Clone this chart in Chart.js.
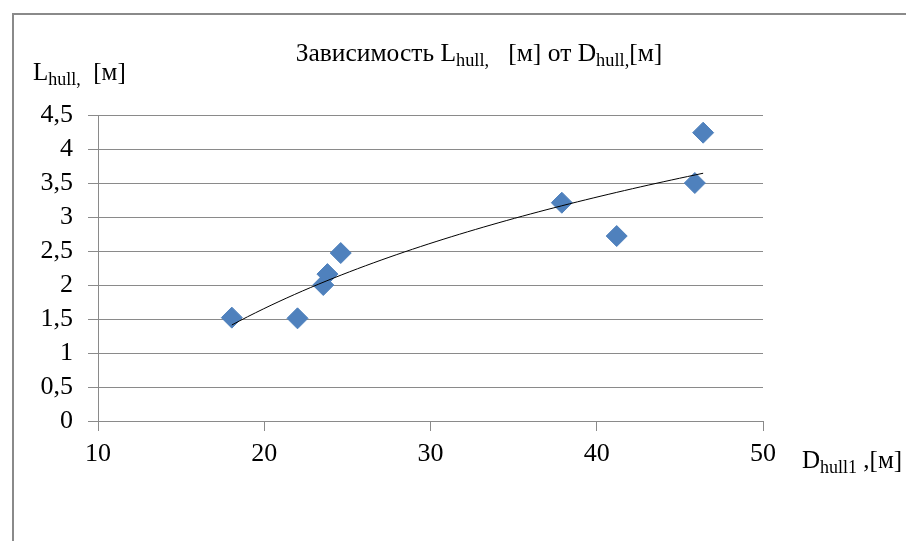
<!DOCTYPE html>
<html>
<head>
<meta charset="utf-8">
<script src="https://cdn.jsdelivr.net/npm/chart.js@4"></script>
<style>
  html, body { margin: 0; padding: 0; background: #fff; }
  #wrap { width: 906px; height: 541px; position: relative; }
</style>
</head>
<body>
<div id="wrap"><canvas id="chart" width="906" height="541"></canvas></div>
<script>
// points
const dHull = [18.05, 22.0, 23.55, 23.8, 24.6, 37.9, 41.2, 45.9, 46.4];
const lHull = [1.52, 1.51, 2.0, 2.16, 2.47, 3.21, 2.72, 3.5, 4.24];

const xTicks = [10, 20, 30, 40, 50];
const yTicks = [0, 0.5, 1, 1.5, 2, 2.5, 3, 3.5, 4, 4.5];

// logarithmic trend line like excel: y = a + b*ln(x)
function logFit(xs, ys) {
    let n = xs.length, mx = 0, my = 0;
    xs.forEach((x, i) => { mx += Math.log(x); my += ys[i]; });
    mx /= n; my /= n;
    let sxy = 0, sxx = 0;
    xs.forEach((x, i) => {
        let dx = Math.log(x) - mx;
        sxy += dx * (ys[i] - my);
        sxx += dx * dx;
    });
    let b = sxy / sxx;
    return { a: my - b * mx, b: b };
}
const fit = logFit(dHull, lHull);
const xMin = Math.min(...dHull), xMax = Math.max(...dHull);
let trend = [];
for (let i = 0; i <= 60; i++) {
    let x = xMin + (xMax - xMin) * i / 60;
    trend.push({ x: x, y: fit.a + fit.b * Math.log(x) });
}

const serif = '"Liberation Serif", "Times New Roman", serif';

// draws text with subscript parts: [[text, isSub], ...]
function drawRich(ctx, parts, x, y, size, align, subScale) {
    let w = 0;
    const fontOf = p => (p[1] ? size * subScale : size) + 'px ' + serif;
    parts.forEach(p => {
        ctx.font = fontOf(p);
        w += ctx.measureText(p[0]).width;
    });
    let cx = align === 'center' ? x - w / 2 : x;
    parts.forEach(p => {
        ctx.font = fontOf(p);
        ctx.fillText(p[0], cx, p[1] ? y + size * 0.18 : y);
        cx += ctx.measureText(p[0]).width;
    });
}

const decor = {
    id: 'decor',
    beforeDraw(chart) {
        const ctx = chart.ctx;
        ctx.save();
        ctx.fillStyle = '#fff';
        ctx.fillRect(0, 0, chart.width, chart.height);
        ctx.strokeStyle = '#8a8a8a';
        ctx.lineWidth = 2;
        ctx.beginPath();
        ctx.moveTo(13, chart.height);
        ctx.lineTo(13, 14);
        ctx.lineTo(chart.width, 14);
        ctx.stroke();
        ctx.restore();
    },
    afterDraw(chart) {
        const ctx = chart.ctx;
        ctx.save();
        ctx.fillStyle = '#000';
        ctx.textBaseline = 'alphabetic';
        ctx.textAlign = 'left';
        drawRich(ctx, [['Зависимость L', false], ['hull,', true], ['   [м] от D', false], ['hull,', true], ['[м]', false]], 479, 61, 25.5, 'center', 0.72);
        drawRich(ctx, [['L', false], ['hull,', true], ['  [м]', false]], 33, 80, 25, 'left', 0.72);
        drawRich(ctx, [['D', false], ['hull1', true], [' ,[м]', false]], 802, 468, 25, 'left', 0.72);
        ctx.restore();
    }
};

new Chart(document.getElementById('chart'), {
    type: 'scatter',
    data: {
        datasets: [
            {
                data: dHull.map((x, i) => ({ x: x, y: lHull[i] })),
                backgroundColor: '#4F81BD',
                borderColor: '#4F81BD',
                pointStyle: 'rectRot',
                pointRadius: 10.5,
                pointHoverRadius: 10.5,
                order: 2
            },
            {
                data: trend,
                showLine: true,
                borderColor: '#000',
                borderWidth: 1,
                pointRadius: 0,
                tension: 0,
                order: 1
            }
        ]
    },
    plugins: [decor],
    options: {
        responsive: false,
        animation: false,
        layout: { padding: { left: 0, right: 143, top: 115, bottom: 60 } },
        plugins: { legend: { display: false }, tooltip: { enabled: false } },
        scales: {
            x: {
                type: 'linear',
                min: 10, max: 50,
                afterBuildTicks: s => { s.ticks = xTicks.map(v => ({ value: v })); },
                afterFit: s => { s.height = 60; },
                grid: { display: true, drawOnChartArea: false, drawTicks: true, tickLength: 10, color: '#8a8a8a' },
                border: { display: true, color: '#8a8a8a', width: 1 },
                ticks: { color: '#000', padding: 8, autoSkip: false, maxRotation: 0, font: { family: serif, size: 26 } }
            },
            y: {
                type: 'linear',
                min: 0, max: 4.5,
                afterBuildTicks: s => { s.ticks = yTicks.map(v => ({ value: v })); },
                afterFit: s => { s.width = 98; },
                grid: { color: '#8a8a8a', tickLength: 10, drawTicks: true },
                border: { display: true, color: '#8a8a8a', width: 1 },
                ticks: {
                    color: '#000', padding: 15, autoSkip: false,
                    font: { family: serif, size: 26 },
                    callback: v => String(v).replace('.', ',')
                }
            }
        }
    }
});
</script>
</body>
</html>
